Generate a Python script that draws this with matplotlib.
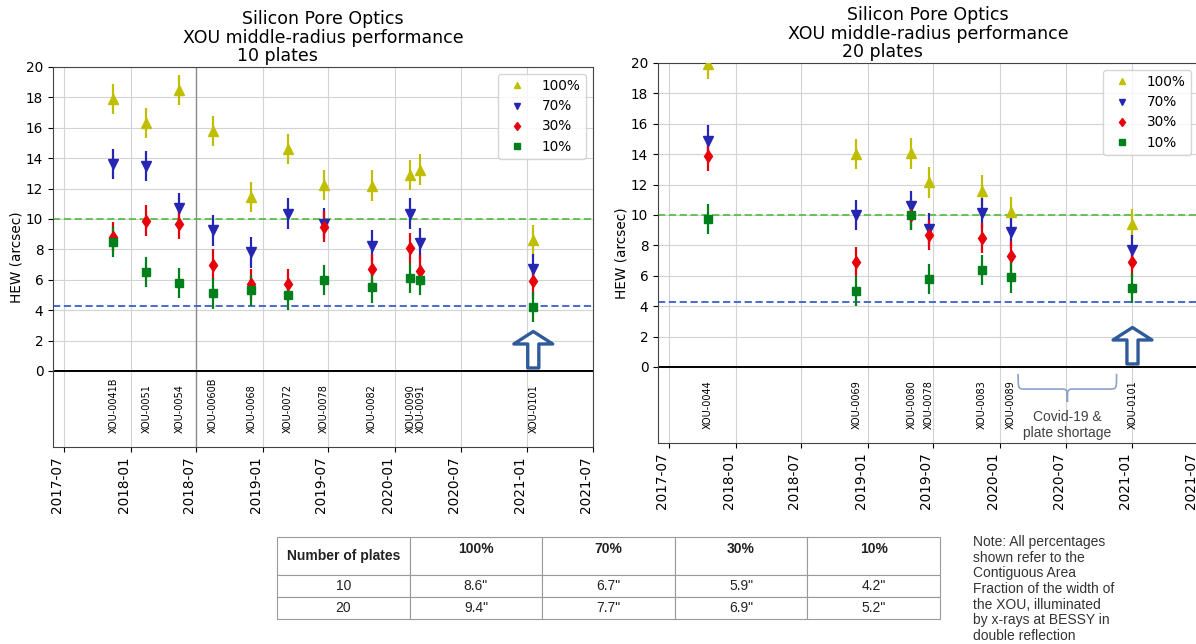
import numpy as np
import pandas as pd
import matplotlib
matplotlib.use("Agg")
import matplotlib.pyplot as plt
import matplotlib.dates as mdates
from matplotlib.path import Path
from matplotlib.patches import PathPatch

# ---- 10 plates XOUs ----
dates_10 = pd.to_datetime(['2017-11-14', '2018-02-13', '2018-05-15', '2018-08-15',
                           '2018-11-30', '2019-03-11', '2019-06-19', '2019-10-29',
                           '2020-02-12', '2020-03-11', '2021-01-17'])
names_10 = ['XOU-0041B', 'XOU-0051', 'XOU-0054', 'XOU-0060B', 'XOU-0068', 'XOU-0072',
            'XOU-0078', 'XOU-0082', 'XOU-0090', 'XOU-0091', 'XOU-0101']
hew100_10 = [17.9, 16.3, 18.5, 15.8, 11.45, 14.6, 12.25, 12.2, 12.9, 13.25, 8.6]
hew70_10 = [13.6, 13.5, 10.7, 9.25, 7.8, 10.35, 9.7, 8.25, 10.35, 8.4, 6.7]
hew30_10 = [8.8, 9.9, 9.7, 7.0, 5.7, 5.7, 9.5, 6.7, 8.1, 6.6, 5.9]
hew10_10 = [8.5, 6.5, 5.8, 5.1, 5.3, 5.0, 6.0, 5.5, 6.1, 6.0, 4.2]

# ---- 20 plates XOUs ----
dates_20 = pd.to_datetime(['2017-10-15', '2018-11-30', '2019-05-01', '2019-06-18',
                           '2019-11-11', '2020-01-30', '2021-01-01'])
names_20 = ['XOU-0044', 'XOU-0069', 'XOU-0080', 'XOU-0078', 'XOU-0083', 'XOU-0089', 'XOU-0101']
hew100_20 = [19.95, 14.0, 14.05, 12.15, 11.6, 10.2, 9.4]
hew70_20 = [14.9, 10.0, 10.6, 9.1, 10.15, 8.85, 7.7]
hew30_20 = [13.9, 6.9, 10.0, 8.7, 8.5, 7.3, 6.9]
hew10_20 = [9.75, 5.0, 10.0, 5.8, 6.4, 5.9, 5.2]

hew_err = 1.0
req_10 = 10.0     # green dashed requirement
req_goal = 4.3    # blue dashed goal

fractions = ['100%', '70%', '30%', '10%']
markers = ['^', 'v', 'd', 's']
colors = ['#bfbf00', '#2626b4', '#e8000b', '#00801a']
msizes = [6.5, 6.5, 6, 5.5]

covid_span = pd.to_datetime(['2020-02-20', '2020-11-18'])

note = ("Note: All percentages\nshown refer to the\nContiguous Area\n"
        "Fraction of the width of\nthe XOU, illuminated\nby x-rays at BESSY in\n"
        "double reflection")


def draw_panel(ax, dates, names, series, plates):
    ax.set_axisbelow(True)
    ax.grid(True, color='#d3d3d3', lw=0.8)
    handles = []
    for vals, lab, mk, col, ms in zip(series, fractions, markers, colors, msizes):
        eb = ax.errorbar(dates, vals, yerr=hew_err, fmt=mk, color=col, ms=ms,
                         elinewidth=1.6, capsize=0, label=lab, zorder=3)
        handles.append(eb.lines[0])
    ax.axhline(req_10, color='#5cbf4a', ls=(0, (4, 2)), lw=1.3, zorder=2)
    ax.axhline(req_goal, color='#3a5fcd', ls=(0, (4, 2)), lw=1.3, zorder=2)
    ax.axhline(0, color='black', lw=1.4, zorder=2)

    for d, n in zip(dates, names):
        ax.text(d, -4.1, n, rotation=90, ha='center', va='bottom', fontsize=7)

    ax.annotate('', xy=(dates[-1], 2.6), xytext=(dates[-1], 0.2),
                arrowprops=dict(arrowstyle='simple,head_length=0.45,head_width=1.4,tail_width=0.4',
                                fc='white', ec='#2f5b9a', lw=2.4, shrinkA=0, shrinkB=0,
                                mutation_scale=20), zorder=4)

    ax.set_ylim(-5, 20)
    ax.set_yticks(np.arange(0, 21, 2))
    ax.set_xlim(pd.Timestamp('2017-05-31'), pd.Timestamp('2021-07-01'))
    ax.xaxis.set_major_locator(mdates.MonthLocator(bymonth=(1, 7)))
    ax.xaxis.set_major_formatter(mdates.DateFormatter('%Y-%m'))
    ax.tick_params(labelsize=9.8)
    for lbl in ax.get_xticklabels():
        lbl.set_rotation(90)
        lbl.set_ha('right')
    ax.set_ylabel('HEW (arcsec)', fontsize=9.8, labelpad=2)
    for s in ax.spines.values():
        s.set_color('#444444')

    ax.legend(handles=handles, labels=fractions, loc='upper right', fontsize=9.8,
              markerscale=0.75, numpoints=1, labelspacing=0.45)

    ax.annotate('Silicon Pore Optics', xy=(0.5, 1), xycoords='axes fraction',
                xytext=(0, 31), textcoords='offset points', ha='center',
                va='baseline', fontsize=12.5)
    ax.annotate('XOU middle-radius performance', xy=(0.5, 1), xycoords='axes fraction',
                xytext=(0, 17.5), textcoords='offset points', ha='center',
                va='baseline', fontsize=12.5)
    ax.annotate(plates, xy=(0.416, 1), xycoords='axes fraction',
                xytext=(0, 4), textcoords='offset points', ha='center',
                va='baseline', fontsize=12.5)


fig = plt.figure(figsize=(11.96, 6.44), dpi=100)
W, H = 1196, 644
ax1 = fig.add_axes([53 / W, (H - 447) / H, 540 / W, 380 / H])
ax2 = fig.add_axes([658 / W, (H - 443) / H, 540 / W, 380 / H])

draw_panel(ax1, dates_10, names_10, [hew100_10, hew70_10, hew30_10, hew10_10], '10 plates')
draw_panel(ax2, dates_20, names_20, [hew100_20, hew70_20, hew30_20, hew10_20], '20 plates')

ax1.axvline(pd.Timestamp('2018-07-01'), color='#8c8c8c', lw=1.0, zorder=1)

# Covid-19 brace on the 20-plate panel
x0, x1 = mdates.date2num(covid_span[0]), mdates.date2num(covid_span[1])
xc = (x0 + x1) / 2
q = 20
ytop, ymid, ytip = -0.45, -1.45, -2.3
verts = [(x0, ytop), (x0, ymid), (x0, ymid), (x0 + q, ymid),
         (xc - q, ymid),
         (xc, ymid), (xc, ymid), (xc, ytip),
         (xc, ymid), (xc, ymid), (xc + q, ymid),
         (x1 - q, ymid),
         (x1, ymid), (x1, ymid), (x1, ytop)]
codes = [Path.MOVETO, Path.CURVE4, Path.CURVE4, Path.CURVE4, Path.LINETO,
         Path.CURVE4, Path.CURVE4, Path.CURVE4, Path.CURVE4, Path.CURVE4, Path.CURVE4,
         Path.LINETO, Path.CURVE4, Path.CURVE4, Path.CURVE4]
ax2.add_patch(PathPatch(Path(verts, codes), fill=False, ec='#8da3c9', lw=1.2))
ax2.text(xc, -3.8, 'Covid-19 &\nplate shortage', ha='center', va='center',
         fontsize=10, family='Liberation Sans', color='#404040')

# summary table
ax_t = fig.add_axes([277 / W, (H - 619) / H, 663 / W, 82 / H])
ax_t.axis('off')
col_labels = ['Number of plates'] + [f + '\n' for f in fractions]
rows = [['10'] + [f'{s[-1]}"' for s in [hew100_10, hew70_10, hew30_10, hew10_10]],
        ['20'] + [f'{s[-1]}"' for s in [hew100_20, hew70_20, hew30_20, hew10_20]]]
tbl = ax_t.table(cellText=rows, colLabels=col_labels, cellLoc='center', bbox=[0, 0, 1, 1])
tbl.auto_set_font_size(False)
for (r, c), cell in tbl.get_celld().items():
    cell.set_height(38 if r == 0 else 22)
    cell.set_edgecolor('#9a9a9a')
    cell.set_linewidth(0.8)
    txt = cell.get_text()
    txt.set_fontsize(10)
    txt.set_family('Liberation Sans')
    txt.set_color('#222222')
    txt.set_linespacing(1.0)
    if r == 0:
        txt.set_fontweight('bold')

fig.text(973 / W, 1 - 535 / H, note, ha='left', va='top', fontsize=10,
         family='Liberation Sans', color='#333333', linespacing=1.15)

fig.savefig('out.png', dpi=100)
